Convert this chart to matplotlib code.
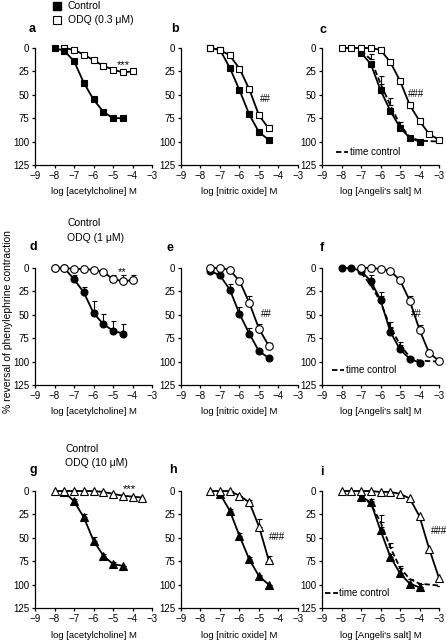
import matplotlib
matplotlib.use("Agg")
import matplotlib.pyplot as plt

plt.rcParams['font.family'] = ['Liberation Sans', 'DejaVu Sans']

W, H = 446, 640

# ---- data ----
# row 1 : ODQ 0.3 uM (squares)
a_x_ctl = [-8, -7.5, -7, -6.5, -6, -5.5, -5, -4.5]
a_y_ctl = [0, 3, 14, 37, 55, 68, 75, 75]
a_x_odq = [-7.5, -7, -6.5, -6, -5.5, -5, -4.5, -4]
a_y_odq = [0, 2, 7, 13, 19, 23, 26, 25]

b_x_ctl = [-7.5, -7, -6.5, -6, -5.5, -5, -4.5]
b_y_ctl = [0, 2, 21, 45, 71, 90, 98]
b_x_odq = [-7.5, -7, -6.5, -6, -5.5, -5, -4.5]
b_y_odq = [0, 2, 8, 22, 44, 72, 86]

c_x_ctl = [-7, -6.5, -6, -5.5, -5, -4.5, -4]
c_y_ctl = [5, 17, 45, 67, 85, 96, 100]
c_x_odq = [-8, -7.5, -7, -6.5, -6, -5.5, -5, -4.5, -4, -3.5, -3]
c_y_odq = [0, 0, 0, 0, 2, 15, 35, 61, 78, 92, 98]
c_x_tc = [-7, -6.5, -6, -5.5, -5, -4.5, -4, -3]
c_y_tc = [3, 12, 38, 61, 82, 95, 99, 100]
c_e_tc = [0, 6, 8, 8, 3, 0, 0, 0]

# row 2 : ODQ 1 uM (circles)
d_x_ctl = [-8, -7.5, -7, -6.5, -6, -5.5, -5, -4.5]
d_y_ctl = [0, 0, 12, 26, 48, 60, 67, 70]
d_e_ctl = [0, 0, 4, 6, 13, 11, 10, 10]
d_x_odq = [-8, -7.5, -7, -6.5, -6, -5.5, -5, -4.5, -4]
d_y_odq = [0, 0, 1, 1, 2, 4, 12, 14, 13]
d_e_odq = [0, 0, 0, 0, 0, 2, 4, 6, 5]

e_x_ctl = [-7.5, -7, -6.5, -6, -5.5, -5, -4.5]
e_y_ctl = [3, 8, 23, 49, 70, 89, 96]
e_e_ctl = [0, 2, 6, 7, 6, 2, 0]
e_x_odq = [-7.5, -7, -6.5, -6, -5.5, -5, -4.5]
e_y_odq = [0, 0, 2, 14, 37, 65, 83]
e_e_odq = [0, 0, 0, 3, 7, 5, 3]

f_x_ctl = [-8, -7.5, -7, -6.5, -6, -5.5, -5, -4.5, -4]
f_y_ctl = [0, 0, 3, 14, 34, 68, 87, 97, 101]
f_e_ctl = [0, 0, 0, 7, 8, 4, 2, 0, 0]
f_x_odq = [-7, -6.5, -6, -5.5, -5, -4.5, -4, -3.5, -3]
f_y_odq = [0, 0, 1, 3, 13, 35, 66, 91, 99]
f_e_odq = [0, 0, 0, 0, 2, 5, 5, 2, 0]
f_x_tc = [-7, -6.5, -6, -5.5, -5, -4.5, -4, -3]
f_y_tc = [5, 18, 36, 63, 82, 95, 99, 100]
f_e_tc = [0, 4, 6, 5, 3, 0, 0, 0]

# row 3 : ODQ 10 uM (triangles)
g_x_ctl = [-7.5, -7, -6.5, -6, -5.5, -5, -4.5]
g_y_ctl = [1, 11, 28, 53, 69, 78, 80]
g_e_ctl = [0, 2, 3, 4, 2, 2, 0]
g_x_odq = [-8, -7.5, -7, -6.5, -6, -5.5, -5, -4.5, -4, -3.5]
g_y_odq = [0, 0, 0, 0, 0, 1, 3, 5, 6, 7]

h_x_ctl = [-7, -6.5, -6, -5.5, -5, -4.5]
h_y_ctl = [3, 21, 48, 73, 91, 100]
h_e_ctl = [0, 2, 3, 2, 1, 0]
h_x_odq = [-7.5, -7, -6.5, -6, -5.5, -5, -4.5]
h_y_odq = [0, 0, 0, 5, 12, 38, 74]
h_e_odq = [0, 0, 0, 0, 2, 8, 5]

i_x_ctl = [-7, -6.5, -6, -5.5, -5, -4.5, -4]
i_y_ctl = [6, 12, 42, 70, 88, 99, 103]
i_e_ctl = [0, 3, 4, 3, 0, 0, 0]
i_x_odq = [-8, -7.5, -7, -6.5, -6, -5.5, -5, -4.5, -4, -3.5, -3]
i_y_odq = [0, 0, 0, 0, 1, 1, 3, 8, 27, 62, 93]
i_x_tc = [-7, -6.5, -6, -5.5, -5, -4.5, -4, -3]
i_y_tc = [5, 14, 33, 60, 82, 94, 99, 101]
i_e_tc = [0, 3, 7, 4, 2, 0, 0, 0]

xlabels = ['log [acetylcholine] M', 'log [nitric oxide] M', "log [Angeli's salt] M"]
yticks = [0, 25, 50, 75, 100, 125]
xticks = [-9, -8, -7, -6, -5, -4, -3]

fig = plt.figure(figsize=(W / 100, H / 100), dpi=100)

lefts = [35, 181, 322]
tops = [48, 268, 491]
aw, ah = 117, 117


def make_ax(row, col):
    l = lefts[col] / W
    b = 1 - (tops[row] + ah) / H
    ax = fig.add_axes([l, b, aw / W, ah / H])
    ax.set_xlim(-9, -3)
    ax.set_ylim(125, 0)
    ax.set_xticks(xticks)
    ax.set_yticks(yticks)
    ax.spines['top'].set_visible(False)
    ax.spines['right'].set_visible(False)
    ax.spines['left'].set_linewidth(0.9)
    ax.spines['bottom'].set_linewidth(0.9)
    ax.tick_params(length=2.5, width=0.9, labelsize=7, pad=1.5)
    ax.set_xlabel(xlabels[col], fontsize=6.8, labelpad=5)
    return ax


def series(ax, x, y, marker, filled, err=None, ms=5):
    if err is not None:
        ax.errorbar(x, y, yerr=[err, [0] * len(err)], fmt='none', ecolor='black',
                    elinewidth=0.8, capsize=1.8, capthick=0.8, clip_on=False)
    ax.plot(x, y, color='black', lw=1.3, marker=marker, ms=ms,
            mfc='black' if filled else 'white', mec='black', mew=0.8, clip_on=False)


def time_control(ax, x, y, err, lx, ly):
    ax.errorbar(x, y, yerr=[err, [0] * len(err)], fmt='none', ecolor='black',
                elinewidth=0.8, capsize=1.8, capthick=0.8)
    ax.plot(x, y, color='black', lw=1.3, ls=(0, (3, 1.5)))
    ax.plot(lx, [ly, ly], color='black', lw=1.3, ls=(0, (3, 1.5)))
    ax.text(lx[1] + 0.08, ly, 'time control', fontsize=7, va='center', ha='left')


# row 1
ax = make_ax(0, 0)
series(ax, a_x_odq, a_y_odq, 's', False)
series(ax, a_x_ctl, a_y_ctl, 's', True)
ax.text(-4.45, 18, '***', fontsize=8, ha='center', va='center')

ax = make_ax(0, 1)
series(ax, b_x_ctl, b_y_ctl, 's', True)
series(ax, b_x_odq, b_y_odq, 's', False)
ax.text(-4.95, 55, '##', fontsize=7, ha='left', va='center')

ax = make_ax(0, 2)
time_control(ax, c_x_tc, c_y_tc, c_e_tc, [-8.3, -7.65], 111)
series(ax, c_x_ctl, c_y_ctl, 's', True)
series(ax, c_x_odq, c_y_odq, 's', False)
ax.text(-4.6, 49, '###', fontsize=7, ha='left', va='center')

# row 2
ax = make_ax(1, 0)
series(ax, d_x_ctl, d_y_ctl, 'o', True, d_e_ctl)
series(ax, d_x_odq, d_y_odq, 'o', False, d_e_odq, ms=5.5)
ax.text(-4.55, 4, '**', fontsize=8, ha='center', va='center')

ax = make_ax(1, 1)
series(ax, e_x_ctl, e_y_ctl, 'o', True, e_e_ctl)
series(ax, e_x_odq, e_y_odq, 'o', False, e_e_odq, ms=5.5)
ax.text(-4.9, 49, '##', fontsize=7, ha='left', va='center')

ax = make_ax(1, 2)
time_control(ax, f_x_tc, f_y_tc, f_e_tc, [-8.5, -7.85], 109)
series(ax, f_x_ctl, f_y_ctl, 'o', True, f_e_ctl)
series(ax, f_x_odq, f_y_odq, 'o', False, f_e_odq, ms=5.5)
ax.text(-4.45, 49, '##', fontsize=7, ha='left', va='center')

# row 3
ax = make_ax(2, 0)
series(ax, g_x_ctl, g_y_ctl, '^', True, g_e_ctl, ms=5.5)
series(ax, g_x_odq, g_y_odq, '^', False, ms=6)
ax.text(-4.15, -2, '***', fontsize=8, ha='center', va='center')

ax = make_ax(2, 1)
series(ax, h_x_ctl, h_y_ctl, '^', True, h_e_ctl, ms=5.5)
series(ax, h_x_odq, h_y_odq, '^', False, h_e_odq, ms=6)
ax.text(-4.5, 49, '###', fontsize=7, ha='left', va='center')

ax = make_ax(2, 2)
time_control(ax, i_x_tc, i_y_tc, i_e_tc, [-8.85, -8.2], 109)
series(ax, i_x_ctl, i_y_ctl, '^', True, i_e_ctl, ms=5.5)
series(ax, i_x_odq, i_y_odq, '^', False, ms=6)
ax.text(-3.4, 43, '###', fontsize=7, ha='left', va='center')

# panel letters
letters = [('a', 32, 29), ('b', 175, 29), ('c', 323, 30),
           ('d', 33, 247), ('e', 170, 248), ('f', 322, 248),
           ('g', 33, 470), ('h', 173, 470), ('i', 322, 472)]
for s, x, y in letters:
    fig.text(x / W, 1 - y / H, s, fontsize=9, fontweight='bold', ha='center', va='center')

# legends
fig.lines.append(plt.Line2D([57 / W], [1 - 6 / H], marker='s', ms=5.5, mfc='black', mec='black',
                            transform=fig.transFigure, figure=fig))
fig.lines.append(plt.Line2D([57 / W], [1 - 20 / H], marker='s', ms=5.5, mfc='white', mec='black',
                            mew=0.8, transform=fig.transFigure, figure=fig))
legend_text = [('Control', 68, 6), ('ODQ (0.3 \u03bcM)', 68, 20),
               ('Control', 67, 223), ('ODQ (1 \u03bcM)', 67, 238),
               ('Control', 65, 449), ('ODQ (10 \u03bcM)', 65, 463)]
for s, x, y in legend_text:
    fig.text(x / W, 1 - y / H, s, fontsize=7.5, ha='left', va='center')

fig.text(8 / W, 1 - 322 / H, '% reversal of phenylephrine contraction', rotation=90,
         fontsize=7.5, ha='center', va='center')

fig.savefig('out.png', dpi=100)
